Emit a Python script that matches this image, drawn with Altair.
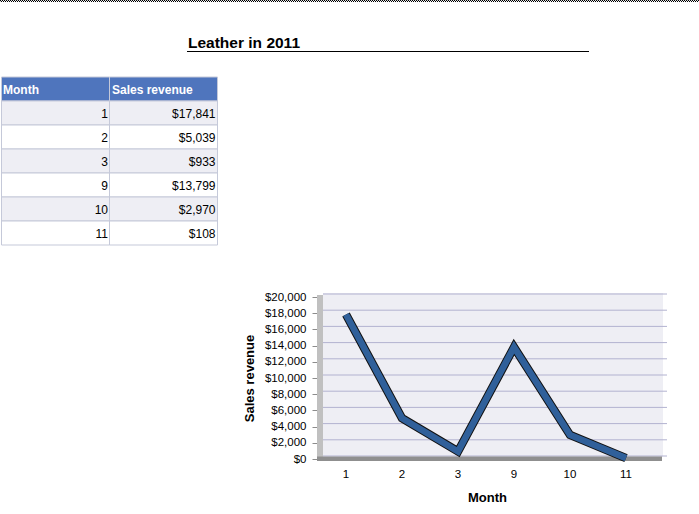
import altair as alt
import pandas as pd

# ---------------- data ----------------
months = [1, 2, 3, 9, 10, 11]
revenue = [17841, 5039, 933, 13799, 2970, 108]
column_headers = ["Month", "Sales revenue"]
y_ticks = [0, 2000, 4000, 6000, 8000, 10000, 12000, 14000, 16000, 18000, 20000]
report_title = "Leather in 2011"
x_title = "Month"
y_title = "Sales revenue"

FONT = "Liberation Sans"
W, H = 699, 514

month_labels = [str(m) for m in months]
rev_labels = [f"${v:,}" for v in revenue]
row_keys = ["header"] + month_labels

line_df = pd.DataFrame({"month": months, "revenue": revenue, "idx": list(range(len(months)))})

cells = []
for c in column_headers:
    cells.append({"row": "header", "col": c, "shade": "header", "text": c})
for i, (m, r) in enumerate(zip(month_labels, rev_labels)):
    shade = "odd" if i % 2 == 0 else "even"
    cells.append({"row": m, "col": "Month", "shade": shade, "text": m})
    cells.append({"row": m, "col": "Sales revenue", "shade": shade, "text": r})
cell_df = pd.DataFrame(cells)
tick_df = pd.DataFrame({"v": y_ticks})
one = pd.DataFrame({"t": [report_title]})

# ---------------- scales ----------------
def col_scale():
    return alt.Scale(domain=column_headers, range=[1.5, 217.5], paddingInner=0, paddingOuter=0)

def col_left_scale():
    return alt.Scale(type="point", domain=column_headers, range=[3, 112], padding=0)

def col_right_scale():
    return alt.Scale(type="point", domain=column_headers, range=[108, 215.5], padding=0)

def row_scale():
    return alt.Scale(domain=row_keys, range=[77, 245], paddingInner=0, paddingOuter=0)

def x_scale():
    return alt.Scale(type="band", domain=months, range=[318, 654], paddingInner=0, paddingOuter=0)

def y_front():
    return alt.Scale(domain=[0, 20000], range=[459, 297])

def y_back():
    return alt.Scale(domain=[0, 20000], range=[456, 294])

# ---------------- decorations ----------------
dots1 = alt.Chart(one).mark_rule(color="black", strokeWidth=1, strokeDash=[1, 1]).encode(
    x=alt.value(0), x2=alt.value(W), y=alt.value(0.5))
dots2 = alt.Chart(one).mark_rule(color="black", strokeWidth=1, strokeDash=[1, 1]).encode(
    x=alt.value(1), x2=alt.value(W), y=alt.value(1.5))

title = alt.Chart(one).mark_text(align="left", baseline="alphabetic", font=FONT, fontSize=15.5,
                                 fontWeight="bold", color="black").encode(
    x=alt.value(188), y=alt.value(48), text="t:N")
underline = alt.Chart(one).mark_rule(color="black", strokeWidth=1).encode(
    x=alt.value(187), x2=alt.value(589), y=alt.value(51.5))

# ---------------- table ----------------
table_bg = alt.Chart(cell_df).mark_rect(stroke="#C5C9D9", strokeWidth=1).encode(
    x=alt.X("col:N", scale=col_scale(), axis=None),
    y=alt.Y("row:N", scale=row_scale(), axis=None),
    fill=alt.Fill("shade:N", scale=alt.Scale(domain=["header", "odd", "even"],
                                             range=["#4F75BD", "#EEEEF4", "#FFFFFF"]), legend=None),
)
header_text = alt.Chart(cell_df).transform_filter("datum.shade == 'header'").mark_text(
    align="left", baseline="middle", dy=1, font=FONT, fontSize=12, fontWeight="bold", color="white"
).encode(
    x=alt.X("col:N", scale=col_left_scale(), axis=None),
    y=alt.Y("row:N", scale=row_scale(), axis=None),
    text="text:N",
)
body_text = alt.Chart(cell_df).transform_filter("datum.shade != 'header'").mark_text(
    align="right", baseline="middle", dy=1, font=FONT, fontSize=12, color="black"
).encode(
    x=alt.X("col:N", scale=col_right_scale(), axis=None),
    y=alt.Y("row:N", scale=row_scale(), axis=None),
    text="text:N",
)

# ---------------- line chart ----------------
back_wall = alt.Chart(one).mark_rect(fill="#EEEEF4").encode(
    x=alt.value(323), x2=alt.value(663), y=alt.value(293), y2=alt.value(457))
left_wall = alt.Chart(one).mark_rect(fill="#C0C0C0").encode(
    x=alt.value(317), x2=alt.value(323), y=alt.value(295), y2=alt.value(461))

grid = alt.Chart(tick_df).mark_rule(color="#B2B2D0", strokeWidth=1).encode(
    y=alt.Y("v:Q", scale=y_back(), axis=None),
    x=alt.value(323), x2=alt.value(667),
)
floor = alt.Chart(one).mark_rect(fill="#8F8F8F").encode(
    x=alt.value(317), x2=alt.value(662), y=alt.value(456.5), y2=alt.value(461))

x_axis = alt.Axis(orient="bottom", offset=-53, domain=False, ticks=False, tickSize=0, grid=False,
                  labelPadding=7, labelAngle=0, labelFont=FONT, labelFontSize=11.5, labelColor="black",
                  title=x_title, titleFont=FONT, titleFontSize=13, titleFontWeight="bold",
                  titleColor="black", titleX=487, titleY=36, titleBaseline="middle", titleAlign="center")
y_axis = alt.Axis(orient="left", offset=-317, values=y_ticks, format="$,.0f", domain=False,
                  ticks=True, tickSize=5, tickColor="#8C8C8C", grid=False,
                  labelPadding=6, labelFont=FONT, labelFontSize=11.5, labelColor="black",
                  title=y_title, titleFont=FONT, titleFontSize=13, titleFontWeight="bold",
                  titleColor="black", titleX=-64, titleY=378, titleAngle=270,
                  titleAlign="center", titleBaseline="alphabetic")

line_outline = alt.Chart(line_df).mark_line(color="#111111", strokeWidth=8.5, strokeJoin="miter",
                                            strokeCap="butt").encode(
    x=alt.X("month:O", scale=x_scale(), axis=x_axis),
    y=alt.Y("revenue:Q", scale=y_front(), axis=y_axis),
    order="idx:Q",
)
line_fill = alt.Chart(line_df).mark_line(color="#30609A", strokeWidth=6.5, strokeJoin="miter",
                                         strokeCap="butt").encode(
    x=alt.X("month:O", scale=x_scale(), axis=None),
    y=alt.Y("revenue:Q", scale=y_front(), axis=None),
    order="idx:Q",
)

# keep the page's left edge clean
edge = alt.Chart(one).mark_rule(color="white", strokeWidth=1).encode(
    x=alt.value(0.5), y=alt.value(2), y2=alt.value(H))

chart = alt.layer(
    dots1, dots2, title, underline,
    table_bg, header_text, body_text,
    back_wall, left_wall, grid, floor,
    line_outline, line_fill, edge,
).resolve_scale(
    x="independent", y="independent", fill="independent"
).properties(
    width=W, height=H, padding=0, autosize=alt.AutoSizeParams(type="none"),
).configure_view(stroke="transparent", strokeWidth=0).configure_axis(
    domain=False
).configure(background="white")

chart.save("out.html", embed_options={"renderer": "svg", "actions": False})
